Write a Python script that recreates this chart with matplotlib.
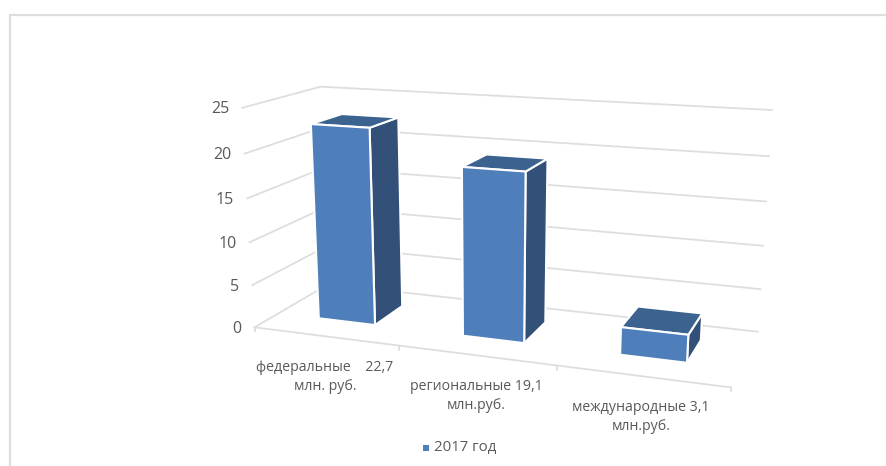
import numpy as np
import matplotlib
matplotlib.use("Agg")
import matplotlib.pyplot as plt

categories = ["федеральные    22,7\nмлн. руб.", "региональные 19,1\nмлн.руб.", "международные 3,1\nмлн.руб."]
values = [22.7, 19.1, 3.1]
y_ticks = [0, 5, 10, 15, 20, 25]
series_name = "2017 год"

# camera calibration: chart-space (category, value, depth) -> reference pixel
calib_src = [(0,0,0),(1,0,0),(2,0,0),(3,0,0),(0,0,1),(3,0,1),(0,25,0),(0,25,1),(3,25,1),(0,15,0),(3,15,1)]
calib_dst = [(255.5,327),(400,346),(557,366),(730.5,387),(327,284),(758,332),(241,108),(322,87),(772,110),(247,198),(766,201)]

A = []
for (X,Y,Z),(u,v) in zip(calib_src, calib_dst):
    X,Y,Z = X/3, Y/25, Z
    A.append([X,Y,Z,1,0,0,0,0,-u*X,-u*Y,-u*Z,-u])
    A.append([0,0,0,0,X,Y,Z,1,-v*X,-v*Y,-v*Z,-v])
P = np.linalg.svd(np.array(A, float))[2][-1].reshape(3,4)

def proj(x, y, z):
    h = P @ np.array([x/3, y/25, z, 1.0])
    return h[0]/h[2], h[1]/h[2]

plt.rcParams["font.family"] = ["Open Sans", "DejaVu Sans"]
fig = plt.figure(figsize=(8.87, 4.66), dpi=100)
ax = fig.add_axes([0, 0, 1, 1])
ax.set_xlim(0, 887); ax.set_ylim(466, 0); ax.axis("off")
GRID = "#DEDEDE"; TXT = "#595959"

# screenshot frame
ax.plot([10, 10, 887], [466, 15, 15], color="#DEDEDE", lw=1.6, solid_joinstyle="miter")

# gridlines on walls
for t in y_ticks:
    pts = [proj(0,t,0), proj(0,t,1), proj(3,t,1)]
    ax.plot(*zip(*pts), color=GRID, lw=1.3, zorder=1)
    u, v = proj(0,t,0)
    ax.text(u-13, v+1.5, str(t), ha="right", va="center", color=TXT, fontsize=11.5)

# category axis and ticks
ax.plot(*zip(proj(0,0,0), proj(3,0,0)), color=GRID, lw=1.3, zorder=1)
for i in range(4):
    u, v = proj(i,0,0)
    ax.plot([u,u],[v,v+4], color=GRID, lw=1.3, zorder=1)

# bars
x0, x1, z0, z1 = 0.296, 0.696, 0.30, 0.72
for i, val in enumerate(values):
    a, b = i+x0, i+x1
    front = [proj(a,0,z0), proj(b,0,z0), proj(b,val,z0), proj(a,val,z0)]
    side  = [proj(b,0,z0), proj(b,0,z1), proj(b,val,z1), proj(b,val,z0)]
    top   = [proj(a,val,z0), proj(b,val,z0), proj(b,val,z1), proj(a,val,z1)]
    for poly, c in ((side,"#325078"),(top,"#3C628F"),(front,"#4E7FBB")):
        ax.fill(*zip(*poly), facecolor=c, edgecolor="white", lw=1.5, zorder=3+i, joinstyle="miter")

label_pos = [(325, 377), (476, 396), (641, 417)]
for (u, v), lab in zip(label_pos, categories):
    ax.text(u, v, lab, ha="center", va="center", color=TXT, fontsize=10.2, linespacing=1.35)

ax.scatter([426], [448], marker="s", s=18, color="#4E7FBB", linewidths=0, zorder=5)
ax.text(434, 448, series_name, ha="left", va="center", color=TXT, fontsize=10.8)

fig.savefig("out.png", dpi=100)
